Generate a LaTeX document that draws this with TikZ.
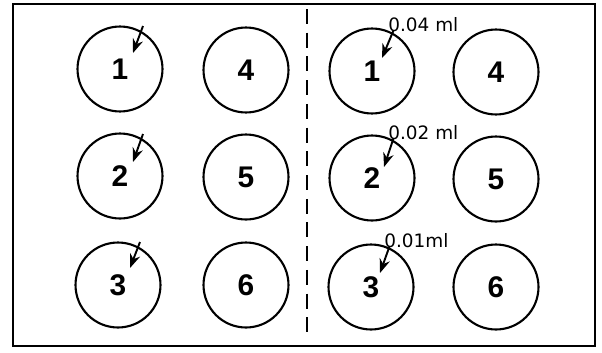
\documentclass[tikz,border=0pt]{standalone}
\usepackage{fontspec}
\setmainfont{Liberation Sans}
\newfontfamily\dosefont{DejaVu Sans}
\usetikzlibrary{arrows.meta}
\tikzset{
  frame/.style={line width=1.6pt},
  divider/.style={line width=1.1pt, dash pattern=on 8.5pt off 5pt},
  well/.style={circle, draw, line width=1.2pt, minimum size=1.7cm, inner sep=0pt,
    font=\fontsize{17}{17}\selectfont\bfseries},
  dose/.style={inner sep=0pt, anchor=base west, font=\dosefont\fontsize{10.5}{10.5}\selectfont},
  pointer/.style={-{Stealth[length=8pt, width=6pt]}, line width=1.1pt},
}

\begin{document}
\begin{tikzpicture}[x=0.02cm, y=-0.02cm]
  \useasboundingbox (0,0) rectangle (602,352);

  % Plate outline
  \draw[frame] (13,4) rectangle (595,346);
  \draw[divider] (307,9) -- (307,335);

  % Left half
  \node[well] (L1) at (120,69) {1};
  \node[well] (L2) at (120,176) {2};
  \node[well] (L3) at (118,285) {3};
  \node[well] (L4) at (246,70) {4};
  \node[well] (L5) at (246,177) {5};
  \node[well] (L6) at (246,285) {6};

  % Right half
  \node[well] (R1) at (372,71) {1};
  \node[well] (R2) at (372,178) {2};
  \node[well] (R3) at (371,287) {3};
  \node[well] (R4) at (496,72) {4};
  \node[well] (R5) at (496,179) {5};
  \node[well] (R6) at (496,287) {6};

  % Doses
  \node[dose] (d1) at (388,31) {0.04 ml};
  \node[dose] (d2) at (388,139) {0.02 ml};
  \node[dose] (d3) at (384,247) {0.01ml};

  % Pointers, left
  \coordinate (L1s) at ([shift={(23,-43)}]L1.center);
  \coordinate (L1e) at ([shift={(13,-16)}]L1.center);
  \coordinate (L2s) at ([shift={(23,-42)}]L2.center);
  \coordinate (L2e) at ([shift={(13,-14)}]L2.center);
  \coordinate (L3s) at ([shift={(22,-43)}]L3.center);
  \coordinate (L3e) at ([shift={(12,-17)}]L3.center);
  \draw[pointer] (L1s) -- (L1e);
  \draw[pointer] (L2s) -- (L2e);
  \draw[pointer] (L3s) -- (L3e);

  % Pointers, right
  \coordinate (R1e) at ([shift={(10,-13)}]R1.center);
  \coordinate (R2e) at ([shift={(12,-11)}]R2.center);
  \coordinate (R3e) at ([shift={(9,-14)}]R3.center);
  \draw[pointer] ([xshift=3pt]d1.base west) -- (R1e);
  \draw[pointer] ([xshift=3pt]d2.base west) -- (R2e);
  \draw[pointer] ([xshift=3pt]d3.base west) -- (R3e);
\end{tikzpicture}
\end{document}
